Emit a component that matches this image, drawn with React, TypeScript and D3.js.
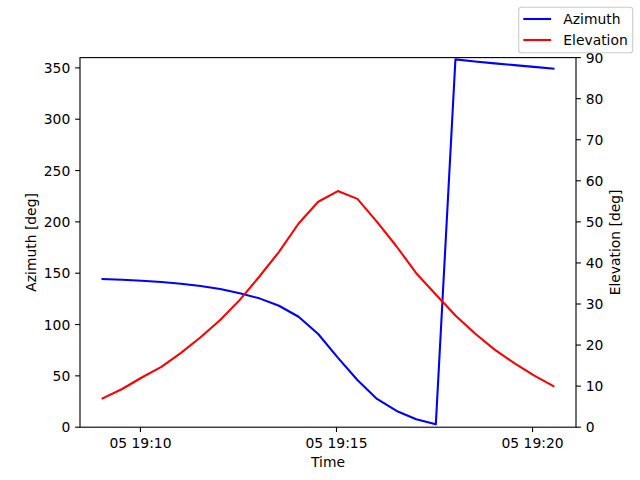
import React from "react";
import * as d3 from "d3";

const times: string[] = [
  "2024-03-05T19:09:02Z", "2024-03-05T19:09:32Z", "2024-03-05T19:10:02Z", "2024-03-05T19:10:32Z",
  "2024-03-05T19:11:02Z", "2024-03-05T19:11:32Z", "2024-03-05T19:12:02Z", "2024-03-05T19:12:32Z",
  "2024-03-05T19:13:02Z", "2024-03-05T19:13:32Z", "2024-03-05T19:14:02Z", "2024-03-05T19:14:32Z",
  "2024-03-05T19:15:02Z", "2024-03-05T19:15:32Z", "2024-03-05T19:16:02Z", "2024-03-05T19:16:32Z",
  "2024-03-05T19:17:02Z", "2024-03-05T19:17:32Z", "2024-03-05T19:18:02Z", "2024-03-05T19:18:32Z",
  "2024-03-05T19:19:02Z", "2024-03-05T19:19:32Z", "2024-03-05T19:20:02Z", "2024-03-05T19:20:32Z",
];
const azimuth: number[] = [
  144.3, 143.7, 142.7, 141.4, 139.8, 137.5, 134.6, 130.4, 125.5, 118.3, 107.6, 90.8,
  67.8, 46.0, 27.5, 15.8, 7.7, 2.8, 358.3, 356.2, 354.4, 352.7, 351.0, 349.2,
];
const elevation: number[] = [
  7.0, 9.3, 12.1, 14.7, 18.1, 21.9, 26.1, 31.0, 36.7, 42.7, 49.6, 54.9,
  57.5, 55.6, 50.0, 44.0, 37.5, 32.3, 27.2, 22.8, 18.9, 15.6, 12.6, 10.0,
];
const azTicks: number[] = [0, 50, 100, 150, 200, 250, 300, 350];
const elTicks: number[] = [0, 10, 20, 30, 40, 50, 60, 70, 80, 90];
const seriesNames: string[] = ["Azimuth", "Elevation"];
const seriesColors: string[] = ["#0000ff", "#ff0000"];

const W = 640, H = 480;
const L = 80, R = 576, T = 57.6, B = 427.2;
const FS = 13.89;
const FONT = "DejaVu Sans, sans-serif";

export default function App() {
  const dates = times.map((t) => new Date(t));
  const [t0, t1] = d3.extent(dates) as [Date, Date];
  const span = t1.getTime() - t0.getTime();
  const x = d3
    .scaleUtc()
    .domain([new Date(t0.getTime() - span * 0.05), new Date(t1.getTime() + span * 0.05)])
    .range([L, R]);
  const yL = d3.scaleLinear().domain([0, 360]).range([B, T]);
  const yR = d3.scaleLinear().domain([0, 90]).range([B, T]);
  const xTicks = x.ticks(d3.utcMinute.every(5) as d3.TimeInterval);
  const fmt = d3.utcFormat("%d %H:%M");

  const azLine = d3
    .line<number>()
    .x((_, i) => x(dates[i]))
    .y((d) => yL(d));
  const elLine = d3
    .line<number>()
    .x((_, i) => x(dates[i]))
    .y((d) => yR(d));

  const tl = 4.86;
  const pad = 4.86;

  return (
    <svg
      width={W}
      height={H}
      style={{ position: "absolute", left: 0, top: 0, background: "#fff" }}
      fontFamily={FONT}
      fontSize={FS}
    >
      <rect x={0} y={0} width={W} height={H} fill="#fff" />
      <defs>
        <clipPath id="plotclip">
          <rect x={L} y={T} width={R - L} height={B - T} />
        </clipPath>
      </defs>
      <g clipPath="url(#plotclip)">
        <path d={azLine(azimuth) || ""} fill="none" stroke={seriesColors[0]} strokeWidth={2.08} strokeLinejoin="round" strokeLinecap="square" />
        <path d={elLine(elevation) || ""} fill="none" stroke={seriesColors[1]} strokeWidth={2.08} strokeLinejoin="round" strokeLinecap="square" />
      </g>
      {/* spines */}
      <rect x={L} y={T} width={R - L} height={B - T} fill="none" stroke="#000" strokeWidth={1.11} />
      {/* x ticks */}
      {xTicks.map((t, i) => (
        <g key={"x" + i}>
          <line x1={x(t)} x2={x(t)} y1={B} y2={B + tl} stroke="#000" strokeWidth={1.11} />
          <text x={x(t)} y={447.7} textAnchor="middle" fill="#000">
            {fmt(t)}
          </text>
        </g>
      ))}
      {/* left ticks */}
      {azTicks.map((v, i) => (
        <g key={"l" + i}>
          <line x1={L - tl} x2={L} y1={yL(v)} y2={yL(v)} stroke="#000" strokeWidth={1.11} />
          <text x={L - tl - pad} y={yL(v)} dy="0.36em" textAnchor="end" fill="#000">
            {v}
          </text>
        </g>
      ))}
      {/* right ticks */}
      {elTicks.map((v, i) => (
        <g key={"r" + i}>
          <line x1={R} x2={R + tl} y1={yR(v)} y2={yR(v)} stroke="#000" strokeWidth={1.11} />
          <text x={R + tl + pad} y={yR(v)} dy="0.36em" textAnchor="start" fill="#000">
            {v}
          </text>
        </g>
      ))}
      {/* axis labels */}
      <text x={(L + R) / 2} y={466.7} textAnchor="middle" fill="#000">
        Time
      </text>
      <text transform={`translate(35.5, ${(T + B) / 2}) rotate(-90)`} textAnchor="middle" fill="#000">
        Azimuth [deg]
      </text>
      <text transform={`translate(619.6, ${(T + B) / 2}) rotate(-90)`} textAnchor="middle" fill="#000">
        Elevation [deg]
      </text>
      {/* legend */}
      <rect x={518.7} y={7.3} width={114} height={45.4} rx={2.8} fill="#fff" fillOpacity={0.8} stroke="#cccccc" strokeWidth={1.11} />
      {seriesNames.map((n, i) => (
        <g key={"lg" + i}>
          <line x1={523.3} x2={551.1} y1={19 + i * 21} y2={19 + i * 21} stroke={seriesColors[i]} strokeWidth={2.08} />
          <text x={563.3} y={19 + i * 21} dy="0.36em" fill="#000">
            {n}
          </text>
        </g>
      ))}
    </svg>
  );
}
